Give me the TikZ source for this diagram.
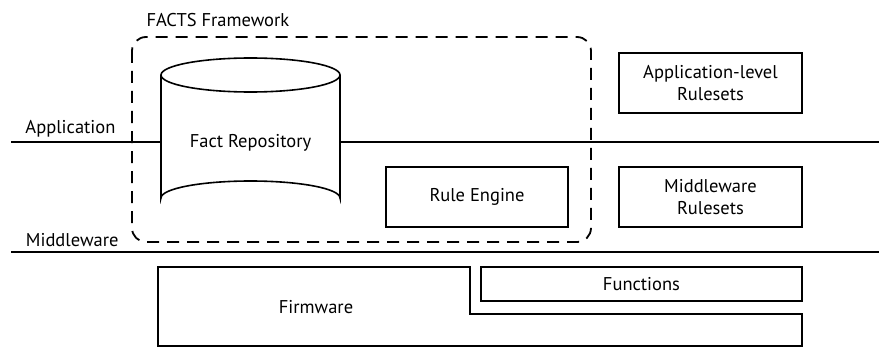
\documentclass[tikz,border=0pt]{standalone}
\usepackage{fontspec}
\setmainfont{PT Sans}
\usetikzlibrary{positioning}

\begin{document}
\begin{tikzpicture}[x=1pt,y=-1pt,
    every node/.style={font=\fontsize{18.5}{22}\selectfont},
    box/.style={draw,line width=1.6pt,align=center,inner sep=0pt,fill=white},
    layer/.style={line width=2.2pt},
    frame/.style={line width=1.8pt,dash pattern=on 12pt off 8pt,rounded corners=14pt}]
  \useasboundingbox (0,0) rectangle (879,361);
  % layers
  \coordinate (al) at (11,142);
  \coordinate (ar) at (879,142);
  \coordinate (ml) at (11,252);
  \coordinate (mr) at (879,252);
  \draw[layer] (al) -- (ar);
  \draw[layer] (ml) -- (mr);
  \node[anchor=base east] (app) at (119,133) {Application};
  \node[anchor=base east] (mid) at (122,246) {Middleware};
  % framework
  \draw[frame] (132,37) rectangle (591,242);
  \node[anchor=base west] (facts) at (143,27) {FACTS Framework};
  % repository drum
  \draw[line width=1.6pt,fill=white] (161,75) -- (161,198) arc (180:360:89.5 and 17) -- (340,75);
  \draw[line width=1.6pt,fill=white] (250.5,75) ellipse (89.5 and 17);
  \node (repo) at (250.5,143) {Fact Repository};
  \node[box,minimum width=182pt,minimum height=60pt] (engine) at (477,197) {Rule Engine};
  % rulesets
  \node[box,minimum width=183pt,minimum height=60pt] (apprules) at (710.5,83) {Application-level\\Rulesets};
  \node[box,minimum width=183pt,minimum height=60pt] (midrules) at (710.5,197) {Middleware\\Rulesets};
  % firmware
  \draw[line width=1.6pt] (158,267) -- (470,267) -- (470,314) -- (802,314) -- (802,346) -- (158,346) -- cycle;
  \node (fw) at (316,307) {Firmware};
  \node[box,minimum width=321pt,minimum height=34pt] (func) at (641.5,284) {Functions};
\end{tikzpicture}
\end{document}
